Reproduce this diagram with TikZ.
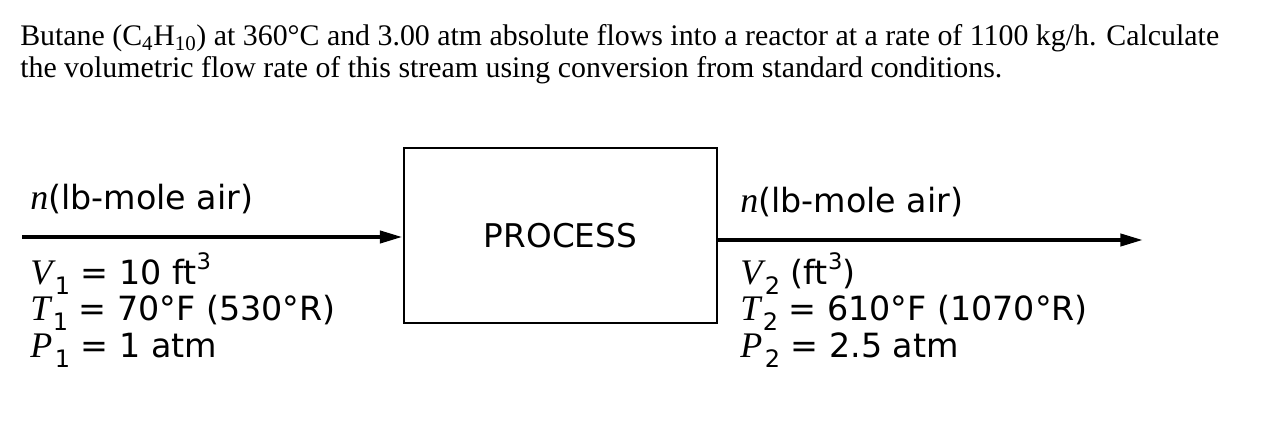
\documentclass[tikz,border=0pt]{standalone}
\usepackage{fontspec}
\setmainfont{Liberation Serif}
\newfontfamily\lab{DejaVu Sans}
\usetikzlibrary{arrows.meta}
\newcommand{\sub}[1]{\kern0.08em\raisebox{-0.55ex}{\fontsize{18pt}{18pt}\selectfont #1}}
\newcommand{\sups}[1]{\raisebox{0.8ex}{\fontsize{17pt}{17pt}\selectfont #1}}
\newcommand{\iv}[1]{{\rmfamily\itshape\fontsize{27pt}{27pt}\selectfont #1}}
\begin{document}
\begin{tikzpicture}[x=0.75pt,y=-0.75pt,
  title/.style={anchor=base west,inner sep=0pt,font=\fontsize{22.4pt}{26pt}\selectfont},
  lbl/.style={anchor=base west,inner sep=0pt,font=\lab\fontsize{25pt}{29pt}\selectfont},
  procbox/.style={draw,line width=2.2pt,minimum width=313*0.75pt,minimum height=175*0.75pt,inner sep=0pt,font=\lab\fontsize{24.5pt}{28pt}\selectfont},
  flow/.style={line width=3pt,-{Triangle[length=17pt,width=9pt]}}]
\useasboundingbox (0,0) rectangle (1273,445);
\node[title] (t1) at (20,46) {Butane (C\textsubscript{4}H\textsubscript{10}) at 360°C and 3.00 atm absolute flows into a reactor at a rate of 1100 kg/h. Calculate};
\node[title] (t2) at (20,78) {the volumetric flow rate of this stream using conversion from standard conditions.};
\node[procbox] (proc) at (560.5,235.5) {PROCESS};
\coordinate (inL) at (22,237);
\coordinate (outR) at (1143,240);
\draw[flow] (inL) -- (proc.west |- inL);
\draw[flow] (proc.east |- outR) -- (outR);
\node[lbl] (n1) at (30,210) {\iv{n}(lb-mole air)};
\node[lbl] (v1) at (30,284) {\iv{V}\sub{1} = 10 ft\sups{3}};
\node[lbl] (tt1) at (30,320) {\iv{T}\sub{1} = 70°F (530°R)};
\node[lbl] (p1) at (30,357) {\iv{P}\sub{1} = 1 atm};
\node[lbl] (n2) at (740,213) {\iv{n}(lb-mole air)};
\node[lbl] (v2) at (740,284) {\iv{V}\sub{2} (ft\sups{3})};
\node[lbl] (tt2) at (740,320) {\iv{T}\sub{2} = 610°F (1070°R)};
\node[lbl] (p2) at (740,357) {\iv{P}\sub{2} = 2.5 atm};
\end{tikzpicture}
\end{document}
